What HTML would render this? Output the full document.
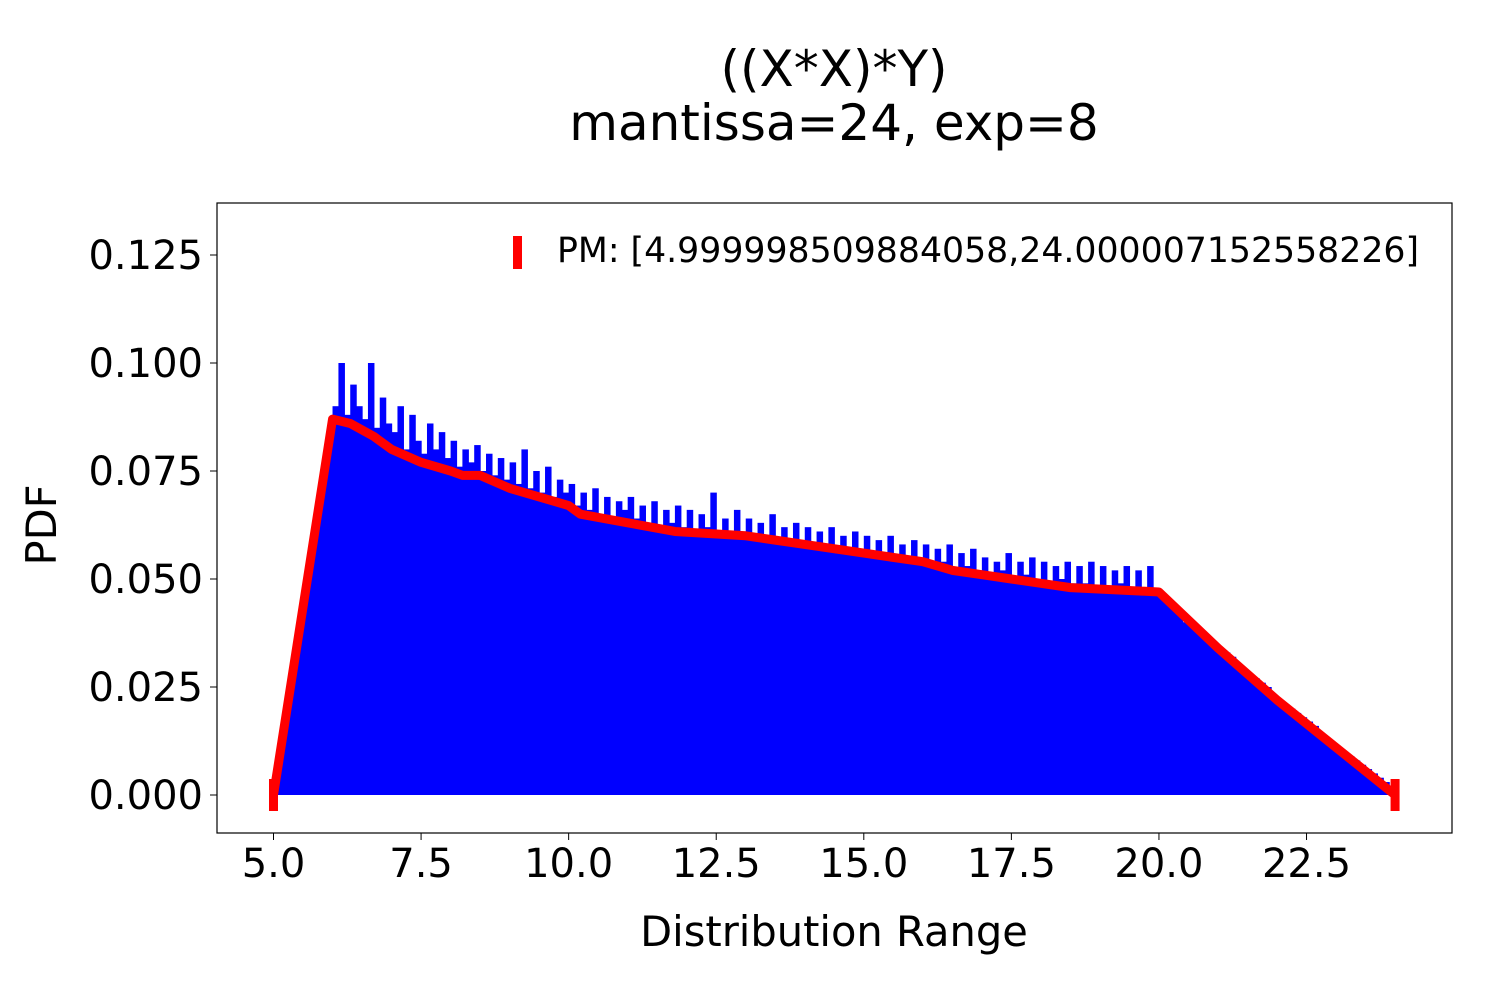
<!DOCTYPE html>
<html><head><meta charset="utf-8"><style>
body{margin:0;background:#fff;}
svg text{font-family:"DejaVu Sans","Liberation Sans",sans-serif;fill:#000;}
</style></head><body>
<svg width="1500" height="1000" viewBox="0 0 1500 1000" xmlns="http://www.w3.org/2000/svg">
<rect width="1500" height="1000" fill="#fff"/>
<text x="834" y="86" font-size="50" text-anchor="middle">((X*X)*Y)</text>
<text x="834" y="140" font-size="50" text-anchor="middle">mantissa=24, exp=8</text>
<g id="bars"></g>
<polyline id="line" fill="none" stroke="#ff0000" stroke-width="9" stroke-linejoin="round"/>
<g id="marks"></g>
<rect x="217" y="203" width="1235" height="630" fill="none" stroke="#000" stroke-width="1.2"/>
<g id="xt"></g>
<g id="yt"></g>
<text x="834" y="946" font-size="41.6" text-anchor="middle">Distribution Range</text>
<text transform="translate(56,525) rotate(-90)" font-size="41.6" text-anchor="middle">PDF</text>
<g>
<rect x="513" y="236" width="9" height="33" fill="#ff0000"/>
<text x="557" y="262" font-size="34.7">PM: [4.999998509884058,24.000007152558226]</text>
</g>
</svg>
<script>
const binStart = 5.0, binWidth = 0.1;
const binValues = [
0.005,0.012,0.02,0.03,0.04,0.05,0.058,0.066,0.075,0.082,
0.09,0.10,0.088,0.095,0.09,0.087,0.1,0.085,0.092,0.086,
0.084,0.09,0.08,0.088,0.082,0.079,0.086,0.08,0.084,0.078,
0.082,0.076,0.08,0.077,0.081,0.075,0.079,0.074,0.078,0.073,
0.077,0.072,0.08,0.071,0.075,0.07,0.076,0.069,0.073,0.07,
0.072,0.067,0.07,0.066,0.071,0.065,0.069,0.064,0.068,0.066,
0.069,0.064,0.067,0.063,0.068,0.062,0.066,0.063,0.067,0.062,
0.066,0.061,0.065,0.062,0.07,0.061,0.064,0.06,0.066,0.061,
0.064,0.06,0.063,0.059,0.065,0.058,0.062,0.059,0.063,0.058,
0.062,0.057,0.061,0.058,0.062,0.056,0.06,0.057,0.061,0.056,
0.06,0.055,0.059,0.056,0.06,0.054,0.058,0.055,0.059,0.054,
0.058,0.053,0.057,0.054,0.058,0.052,0.056,0.053,0.057,0.052,
0.055,0.051,0.054,0.052,0.056,0.05,0.054,0.051,0.055,0.05,
0.054,0.049,0.053,0.05,0.054,0.049,0.053,0.049,0.054,0.048,
0.053,0.048,0.052,0.049,0.053,0.048,0.052,0.048,0.053,0.047,
0.046,0.045,0.043,0.042,0.04,0.039,0.038,0.037,0.036,0.035,
0.034,0.033,0.032,0.03,0.029,0.028,0.027,0.026,0.025,0.023,
0.022,0.021,0.02,0.019,0.018,0.017,0.016,0.014,0.013,0.012,
0.011,0.01,0.009,0.008,0.007,0.006,0.005,0.004,0.003,0.002];
const lineX = [5,6.0,6.3,6.7,7,7.5,8,8.2,8.5,9,9.5,10,10.2,11,11.8,13,13.5,14,15,16,16.5,17,17.5,18,18.5,20,21,22,23,24];
const lineY = [0,0.087,0.086,0.083,0.080,0.077,0.075,0.074,0.074,0.071,0.069,0.067,0.065,0.063,0.061,0.060,0.059,0.058,0.056,0.054,0.052,0.051,0.050,0.049,0.048,0.047,0.034,0.022,0.011,0];
const markerX = [5, 24];
const xTicks = [5.0,7.5,10.0,12.5,15.0,17.5,20.0,22.5];
const yTicks = [0,0.025,0.05,0.075,0.1,0.125];
const xTickLabels = ["5.0","7.5","10.0","12.5","15.0","17.5","20.0","22.5"];
const yTickLabels = ["0.000","0.025","0.050","0.075","0.100","0.125"];

const NS="http://www.w3.org/2000/svg";
const sx = v => 273.5 + (v-5)*59.03;
const sy = v => 795 - v*4320;
const bars=document.getElementById('bars');
binValues.forEach((v,i)=>{
  const r=document.createElementNS(NS,'rect');
  const x0=sx(binStart+i*binWidth), x1=sx(binStart+(i+1)*binWidth);
  r.setAttribute('x',x0); r.setAttribute('width',x1-x0+0.6);
  r.setAttribute('y',sy(v)); r.setAttribute('height',sy(0)-sy(v));
  r.setAttribute('fill','#0000ff');
  
  
  bars.appendChild(r);
});
document.getElementById('line').setAttribute('points', lineX.map((x,i)=>sx(x)+','+sy(lineY[i])).join(' '));
const marks=document.getElementById('marks');
markerX.forEach(x=>{
  const r=document.createElementNS(NS,'rect');
  r.setAttribute('x',sx(x)-4.5); r.setAttribute('y',sy(0)-16);
  r.setAttribute('width',9); r.setAttribute('height',32); r.setAttribute('fill','#ff0000');
  
  
  marks.appendChild(r);
});
const xt=document.getElementById('xt');
xTicks.forEach((v,i)=>{
  const l=document.createElementNS(NS,'line');
  l.setAttribute('x1',sx(v));l.setAttribute('x2',sx(v));l.setAttribute('y1',833);l.setAttribute('y2',840);
  l.setAttribute('stroke','#000');
  
  
  xt.appendChild(l);
  const t=document.createElementNS(NS,'text');
  t.setAttribute('x',sx(v));t.setAttribute('y',877);t.setAttribute('font-size','40');t.setAttribute('text-anchor','middle');
  t.textContent=xTickLabels[i];
  
  
  xt.appendChild(t);
});
const yt=document.getElementById('yt');
yTicks.forEach((v,i)=>{
  const l=document.createElementNS(NS,'line');
  l.setAttribute('x1',210);l.setAttribute('x2',217);l.setAttribute('y1',sy(v));l.setAttribute('y2',sy(v));
  l.setAttribute('stroke','#000');
  
  
  yt.appendChild(l);
  const t=document.createElementNS(NS,'text');
  t.setAttribute('x',203);t.setAttribute('y',sy(v)+14);t.setAttribute('font-size','40');t.setAttribute('text-anchor','end');
  t.textContent=yTickLabels[i];
  
  
  yt.appendChild(t);
});
</script>
</body></html>
